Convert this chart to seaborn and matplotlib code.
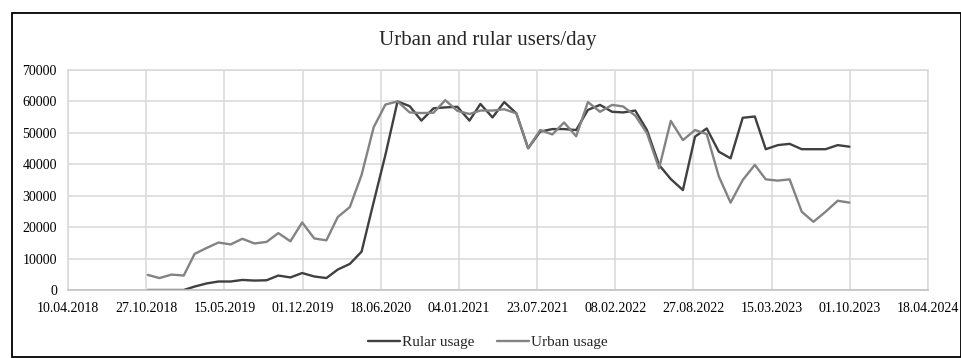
import matplotlib
matplotlib.use("Agg")
import matplotlib.pyplot as plt
import matplotlib.dates as mdates
from matplotlib.patches import Rectangle
import numpy as np
import pandas as pd
import seaborn as sns

# Monthly observations, end of each month
months = pd.date_range("2018-10-31", "2023-09-30", freq="ME")

rular_usage = [
    0, 0, 0, 0, 1100, 2100, 2700, 2700, 3200, 3000, 3100, 4600, 4000, 5400, 4300, 3800,
    6500, 8300, 12200, 28000, 43000, 60000, 58500, 53900, 57800, 58100, 58300, 53900,
    59200, 54900, 59800, 56200, 45100, 50400, 51200, 51200, 50900, 57300, 58900, 56700,
    56500, 57100, 50900, 39800, 35300, 31800, 48800, 51400, 44000, 41900, 54800, 55200,
    44800, 46100, 46500, 44800, 44800, 44800, 46100, 45600,
]
urban_usage = [
    4800, 3800, 4900, 4600, 11500, 13400, 15100, 14500, 16300, 14800, 15300, 18100, 15500,
    21500, 16400, 15800, 23200, 26400, 36600, 51800, 59000, 60000, 56500, 56300, 56400,
    60400, 57000, 56000, 57100, 57100, 57500, 56200, 45100, 50900, 49500, 53300, 48900,
    59800, 56700, 58900, 58400, 55500, 49900, 38700, 53800, 47700, 50900, 49600, 36100,
    27800, 35000, 39800, 35200, 34800, 35200, 24900, 21700, 24900, 28400, 27800,
]
series_names = ["Rular usage", "Urban usage"]
series_colors = ["#404040", "#838383"]

df = pd.concat([
    pd.DataFrame({"date": months, "users": rular_usage, "series": series_names[0]}),
    pd.DataFrame({"date": months, "users": urban_usage, "series": series_names[1]}),
])

sns.set_theme(style="white")
plt.rcParams["font.family"] = ["Liberation Serif", "DejaVu Serif"]

fig = plt.figure(figsize=(9.62, 3.58), dpi=100)
ax = fig.add_axes([68 / 962, 1 - 290 / 358, 860 / 962, 220 / 358])

sns.lineplot(data=df, x="date", y="users", hue="series", hue_order=series_names,
             palette=series_colors, linewidth=1.7, ax=ax, legend=False)

ax.set_xlim(pd.Timestamp("2018-04-10"), pd.Timestamp("2024-04-18"))
ax.set_ylim(0, 70000)
ticks = pd.date_range("2018-04-10", "2024-04-18", freq="200D")
ax.set_xticks(ticks)
ax.xaxis.set_major_formatter(mdates.DateFormatter("%d.%m.%Y"))
ax.set_yticks(np.arange(0, 70001, 10000))
ax.tick_params(axis="both", labelsize=10, colors="black", length=0)
ax.tick_params(axis="x", pad=9)
ax.tick_params(axis="y", pad=8)
ax.set_xlabel("")
ax.set_ylabel("")
ax.grid(True, color="#d9d9d9", linewidth=1.1)
ax.set_axisbelow(True)
for side in ["left", "top", "right"]:
    ax.spines[side].set_color("#d9d9d9")
    ax.spines[side].set_linewidth(1.1)
ax.spines["bottom"].set_color("#bfbfbf")
ax.spines["bottom"].set_linewidth(1.1)

fig.text(0.507, 1 - 40 / 358, "Urban and rular users/day", ha="center", va="center",
         fontsize=15)

handles = [plt.Line2D([], [], color=c, linewidth=1.7) for c in series_colors]
fig.legend(handles, series_names, loc="center", bbox_to_anchor=(0.507, 1 - 342 / 358),
           ncol=2, frameon=False, fontsize=11, handlelength=2.1, handletextpad=0.1,
           columnspacing=1.5)

fig.patches.append(Rectangle((12 / 962, 1 / 358), 949 / 962, 344 / 358,
                             transform=fig.transFigure, fill=False,
                             edgecolor="black", linewidth=1.3))

fig.savefig("out.png", dpi=100)
